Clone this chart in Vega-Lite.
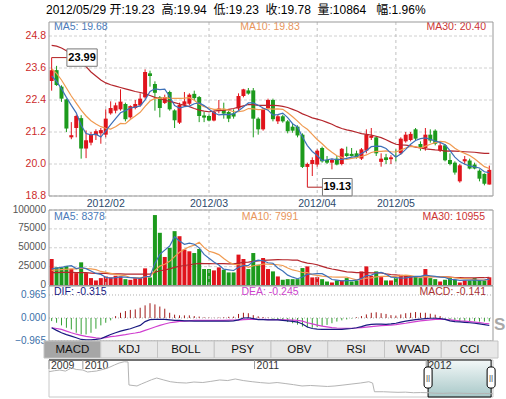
{
"$schema":"https://vega.github.io/schema/vega-lite/v6.json",
"width":454,"height":375,
"autosize":{"type":"none"},
"padding":{"left":44,"top":22,"right":8,"bottom":2},
"background":"white",
"title":{"text":"2012/05/29 开:19.23\u00a0\u00a0高:19.94\u00a0\u00a0低:19.23\u00a0\u00a0收:19.78\u00a0\u00a0量:10864\u00a0\u00a0\u00a0幅:1.96%","anchor":"start","frame":"group","offset":5,"dx":2,"fontSize":12,"fontWeight":"normal","color":"#000000","font":"Liberation Sans, Noto Sans CJK SC"},
"config":{"view":{"stroke":null},"axis":{"disable":true},"text":{"font":"Liberation Sans"}},
"datasets":{
"k":[
{"i":0,"o":23.11,"h":23.99,"l":22.75,"c":23.52,"a5":23.30,"a10":23.57,"a30":24.45,"v":35100,"v5":22000,"v10":20000,"v30":17000,"dif":-0.41,"dea":-0.41,"m":-0.13},
{"i":1,"o":23.52,"h":23.68,"l":22.93,"c":22.96,"a5":23.10,"a10":23.40,"a30":24.42,"v":24000,"v5":23000,"v10":20500,"v30":17000,"dif":-0.52,"dea":-0.44,"m":-0.20},
{"i":2,"o":22.90,"h":22.95,"l":22.33,"c":22.45,"a5":22.82,"a10":23.15,"a30":24.35,"v":24000,"v5":24000,"v10":21000,"v30":17500,"dif":-0.62,"dea":-0.48,"m":-0.31},
{"i":3,"o":22.42,"h":22.45,"l":21.20,"c":21.33,"a5":22.50,"a10":22.85,"a30":24.25,"v":26000,"v5":25500,"v10":21500,"v30":17500,"dif":-0.70,"dea":-0.55,"m":-0.41},
{"i":4,"o":21.00,"h":21.57,"l":20.93,"c":21.08,"a5":22.20,"a10":22.55,"a30":24.10,"v":22000,"v5":26200,"v10":22000,"v30":17500,"dif":-0.76,"dea":-0.62,"m":-0.48},
{"i":5,"o":21.35,"h":21.85,"l":21.00,"c":21.80,"a5":21.92,"a10":22.28,"a30":23.95,"v":16400,"v5":22500,"v10":22000,"v30":17000,"dif":-0.83,"dea":-0.68,"m":-0.62},
{"i":6,"o":21.72,"h":21.83,"l":20.20,"c":20.58,"a5":21.45,"a10":22.02,"a30":23.80,"v":30700,"v5":23800,"v10":23000,"v30":17000,"dif":-0.90,"dea":-0.73,"m":-0.69},
{"i":7,"o":20.58,"h":21.26,"l":20.22,"c":20.89,"a5":21.14,"a10":21.80,"a30":23.65,"v":16400,"v5":22300,"v10":22500,"v30":17000,"dif":-0.92,"dea":-0.77,"m":-0.69},
{"i":8,"o":20.80,"h":21.20,"l":20.70,"c":21.10,"a5":21.09,"a10":21.62,"a30":23.45,"v":9800,"v5":19100,"v10":22000,"v30":16500,"dif":-0.92,"dea":-0.80,"m":-0.62},
{"i":9,"o":21.08,"h":21.30,"l":20.90,"c":21.23,"a5":21.12,"a10":21.50,"a30":23.30,"v":6700,"v5":16000,"v10":21100,"v30":16000,"dif":-0.90,"dea":-0.83,"m":-0.45},
{"i":10,"o":21.15,"h":21.35,"l":20.76,"c":21.27,"a5":21.01,"a10":21.40,"a30":23.15,"v":9800,"v5":14700,"v10":18600,"v30":16000,"dif":-0.87,"dea":-0.85,"m":-0.31},
{"i":11,"o":21.10,"h":22.05,"l":21.00,"c":21.70,"a5":21.24,"a10":21.34,"a30":23.04,"v":12000,"v5":10900,"v10":17400,"v30":16000,"dif":-0.78,"dea":-0.82,"m":-0.20},
{"i":12,"o":21.90,"h":22.35,"l":21.85,"c":22.10,"a5":21.48,"a10":21.31,"a30":22.97,"v":10700,"v5":9800,"v10":16100,"v30":15500,"dif":-0.69,"dea":-0.78,"m":-0.10},
{"i":13,"o":22.00,"h":22.30,"l":21.90,"c":22.20,"a5":21.70,"a10":21.40,"a30":22.92,"v":12900,"v5":10400,"v10":14700,"v30":15500,"dif":-0.62,"dea":-0.76,"m":0.08},
{"i":14,"o":22.05,"h":22.80,"l":22.00,"c":22.34,"a5":21.92,"a10":21.52,"a30":22.87,"v":12000,"v5":11500,"v10":13700,"v30":15500,"dif":-0.55,"dea":-0.73,"m":0.22},
{"i":15,"o":22.25,"h":22.30,"l":21.60,"c":21.68,"a5":22.00,"a10":21.51,"a30":22.82,"v":8400,"v5":11200,"v10":12900,"v30":15000,"dif":-0.50,"dea":-0.70,"m":0.29},
{"i":16,"o":21.75,"h":22.20,"l":21.70,"c":22.17,"a5":22.10,"a10":21.67,"a30":22.77,"v":7500,"v5":10300,"v10":10600,"v30":15000,"dif":-0.45,"dea":-0.66,"m":0.34},
{"i":17,"o":22.10,"h":22.40,"l":22.05,"c":22.25,"a5":22.13,"a10":21.80,"a30":22.72,"v":9800,"v5":10100,"v10":10000,"v30":15000,"dif":-0.38,"dea":-0.63,"m":0.36},
{"i":18,"o":22.20,"h":22.65,"l":22.15,"c":22.45,"a5":22.18,"a10":21.94,"a30":22.68,"v":9800,"v5":9500,"v10":10000,"v30":15000,"dif":-0.31,"dea":-0.59,"m":0.43},
{"i":19,"o":22.50,"h":23.55,"l":22.45,"c":23.45,"a5":22.40,"a10":22.16,"a30":22.64,"v":22700,"v5":11600,"v10":11600,"v30":15000,"dif":-0.15,"dea":-0.52,"m":0.53},
{"i":20,"o":23.40,"h":23.50,"l":22.90,"c":23.30,"a5":22.72,"a10":22.36,"a30":22.57,"v":10700,"v5":12100,"v10":11700,"v30":15000,"dif":-0.07,"dea":-0.45,"m":0.62},
{"i":21,"o":23.00,"h":23.10,"l":22.00,"c":22.67,"a5":22.82,"a10":22.46,"a30":22.50,"v":93300,"v5":29300,"v10":19800,"v30":17500,"dif":-0.06,"dea":-0.38,"m":0.57},
{"i":22,"o":22.50,"h":22.55,"l":21.75,"c":22.10,"a5":22.79,"a10":22.46,"a30":22.45,"v":69800,"v5":41300,"v10":25700,"v30":19500,"dif":-0.06,"dea":-0.31,"m":0.48},
{"i":23,"o":22.29,"h":22.60,"l":22.25,"c":22.51,"a5":22.81,"a10":22.49,"a30":22.39,"v":37800,"v5":46900,"v10":28200,"v30":20500,"dif":-0.06,"dea":-0.25,"m":0.39},
{"i":24,"o":22.70,"h":22.75,"l":22.00,"c":22.05,"a5":22.53,"a10":22.46,"a30":22.35,"v":49800,"v5":52300,"v10":32000,"v30":22000,"dif":-0.08,"dea":-0.20,"m":0.22},
{"i":25,"o":22.01,"h":22.05,"l":21.35,"c":21.64,"a5":22.19,"a10":22.46,"a30":22.30,"v":72000,"v5":64500,"v10":38300,"v30":24000,"dif":-0.10,"dea":-0.17,"m":0.14},
{"i":26,"o":21.55,"h":22.30,"l":21.50,"c":22.22,"a5":22.10,"a10":22.46,"a30":22.25,"v":65300,"v5":58900,"v10":44100,"v30":25500,"dif":-0.10,"dea":-0.14,"m":0.11},
{"i":27,"o":22.22,"h":22.70,"l":22.15,"c":22.35,"a5":22.15,"a10":22.47,"a30":22.20,"v":47600,"v5":54500,"v10":47900,"v30":26500,"dif":-0.12,"dea":-0.13,"m":0.11},
{"i":28,"o":22.26,"h":22.65,"l":22.20,"c":22.60,"a5":22.17,"a10":22.49,"a30":22.15,"v":45300,"v5":56000,"v10":51400,"v30":27500,"dif":-0.12,"dea":-0.12,"m":0.11},
{"i":29,"o":22.63,"h":22.75,"l":22.40,"c":22.47,"a5":22.26,"a10":22.39,"a30":22.08,"v":43000,"v5":54600,"v10":53500,"v30":28500,"dif":-0.13,"dea":-0.10,"m":0.08},
{"i":30,"o":22.51,"h":22.55,"l":21.57,"c":21.80,"a5":22.29,"a10":22.24,"a30":22.02,"v":48400,"v5":49900,"v10":57200,"v30":29200,"dif":-0.13,"dea":-0.10,"m":0.06},
{"i":31,"o":21.82,"h":21.95,"l":21.57,"c":21.74,"a5":22.19,"a10":22.15,"a30":21.98,"v":21800,"v5":41200,"v10":50100,"v30":29100,"dif":-0.13,"dea":-0.10,"m":0.03},
{"i":32,"o":21.80,"h":21.85,"l":21.60,"c":21.63,"a5":22.05,"a10":22.10,"a30":21.96,"v":21800,"v5":36100,"v10":45300,"v30":29000,"dif":-0.13,"dea":-0.10,"m":0.02},
{"i":33,"o":21.63,"h":22.00,"l":21.60,"c":21.95,"a5":21.92,"a10":22.05,"a30":21.98,"v":20000,"v5":31000,"v10":43500,"v30":28800,"dif":-0.13,"dea":-0.10,"m":0.01},
{"i":34,"o":21.98,"h":22.40,"l":21.90,"c":22.08,"a5":21.84,"a10":22.05,"a30":22.01,"v":24000,"v5":27200,"v10":40900,"v30":28900,"dif":-0.13,"dea":-0.10,"m":0.02},
{"i":35,"o":22.02,"h":22.30,"l":21.70,"c":21.89,"a5":21.86,"a10":22.07,"a30":22.01,"v":20900,"v5":21700,"v10":35800,"v30":29000,"dif":-0.13,"dea":-0.10,"m":0.03},
{"i":36,"o":21.95,"h":22.00,"l":21.57,"c":21.70,"a5":21.85,"a10":22.02,"a30":22.05,"v":17300,"v5":20800,"v10":31000,"v30":28600,"dif":-0.13,"dea":-0.09,"m":0.05},
{"i":37,"o":21.90,"h":22.05,"l":21.70,"c":21.78,"a5":21.88,"a10":21.96,"a30":22.08,"v":17300,"v5":19900,"v10":28000,"v30":28600,"dif":-0.12,"dea":-0.09,"m":0.06},
{"i":38,"o":22.08,"h":22.65,"l":22.00,"c":22.55,"a5":22.00,"a10":21.96,"a30":22.13,"v":40900,"v5":24100,"v10":27500,"v30":29600,"dif":-0.08,"dea":-0.09,"m":0.17},
{"i":39,"o":22.55,"h":22.82,"l":22.50,"c":22.80,"a5":22.14,"a10":21.99,"a30":22.18,"v":35100,"v5":26300,"v10":26800,"v30":30600,"dif":0.00,"dea":-0.07,"m":0.22},
{"i":40,"o":22.76,"h":22.85,"l":22.60,"c":22.64,"a5":22.29,"a10":22.08,"a30":22.23,"v":21800,"v5":26500,"v10":24100,"v30":31000,"dif":0.01,"dea":-0.06,"m":0.20},
{"i":41,"o":22.76,"h":22.85,"l":21.00,"c":21.70,"a5":22.29,"a10":22.07,"a30":22.23,"v":43000,"v5":31600,"v10":26200,"v30":32000,"dif":-0.03,"dea":-0.06,"m":0.12},
{"i":42,"o":21.70,"h":21.75,"l":21.10,"c":21.30,"a5":22.20,"a10":22.04,"a30":22.20,"v":27600,"v5":33700,"v10":26800,"v30":32600,"dif":-0.07,"dea":-0.06,"m":0.07},
{"i":43,"o":21.30,"h":22.10,"l":21.25,"c":22.07,"a5":22.10,"a10":22.05,"a30":22.20,"v":36400,"v5":32800,"v10":28400,"v30":33400,"dif":-0.07,"dea":-0.06,"m":0.04},
{"i":44,"o":22.10,"h":22.45,"l":22.05,"c":22.40,"a5":22.02,"a10":22.08,"a30":22.20,"v":21800,"v5":30100,"v10":28200,"v30":33700,"dif":-0.08,"dea":-0.07,"m":0.02},
{"i":45,"o":22.40,"h":22.45,"l":21.60,"c":21.68,"a5":21.83,"a10":22.06,"a30":22.20,"v":18700,"v5":29500,"v10":28000,"v30":34000,"dif":-0.08,"dea":-0.07,"m":-0.03},
{"i":46,"o":21.60,"h":21.85,"l":21.50,"c":21.79,"a5":21.85,"a10":22.07,"a30":22.19,"v":12000,"v5":23300,"v10":27500,"v30":34200,"dif":-0.08,"dea":-0.07,"m":-0.08},
{"i":47,"o":21.79,"h":21.85,"l":21.55,"c":21.60,"a5":21.91,"a10":22.05,"a30":22.16,"v":7600,"v5":19300,"v10":26500,"v30":34100,"dif":-0.10,"dea":-0.08,"m":-0.12},
{"i":48,"o":21.60,"h":21.65,"l":21.15,"c":21.23,"a5":21.74,"a10":21.92,"a30":22.12,"v":8400,"v5":13700,"v10":23200,"v30":34100,"dif":-0.12,"dea":-0.08,"m":-0.17},
{"i":49,"o":21.40,"h":21.50,"l":21.17,"c":21.25,"a5":21.51,"a10":21.77,"a30":22.05,"v":8400,"v5":11000,"v10":20600,"v30":33600,"dif":-0.14,"dea":-0.09,"m":-0.22},
{"i":50,"o":21.40,"h":21.45,"l":21.00,"c":21.07,"a5":21.39,"a10":21.61,"a30":21.98,"v":8400,"v5":9000,"v10":19200,"v30":33500,"dif":-0.17,"dea":-0.10,"m":-0.28},
{"i":51,"o":21.10,"h":21.15,"l":19.85,"c":19.89,"a5":21.01,"a10":21.43,"a30":21.88,"v":23100,"v5":11200,"v10":17200,"v30":31200,"dif":-0.25,"dea":-0.13,"m":-0.36},
{"i":52,"o":19.89,"h":20.05,"l":19.13,"c":20.00,"a5":20.69,"a10":21.30,"a30":21.81,"v":25300,"v5":14700,"v10":17000,"v30":29700,"dif":-0.38,"dea":-0.20,"m":-0.40},
{"i":53,"o":20.00,"h":20.25,"l":19.55,"c":20.15,"a5":20.47,"a10":21.11,"a30":21.73,"v":10700,"v5":15200,"v10":14400,"v30":28800,"dif":-0.44,"dea":-0.25,"m":-0.41},
{"i":54,"o":19.98,"h":20.55,"l":19.90,"c":20.50,"a5":20.32,"a10":20.92,"a30":21.68,"v":11100,"v5":15700,"v10":13400,"v30":27500,"dif":-0.47,"dea":-0.30,"m":-0.38},
{"i":55,"o":20.60,"h":20.65,"l":20.05,"c":20.10,"a5":20.13,"a10":20.76,"a30":21.63,"v":8400,"v5":15700,"v10":12300,"v30":25400,"dif":-0.48,"dea":-0.34,"m":-0.34},
{"i":56,"o":20.15,"h":20.30,"l":20.00,"c":20.05,"a5":20.16,"a10":20.58,"a30":21.56,"v":5300,"v5":12200,"v10":11700,"v30":23400,"dif":-0.48,"dea":-0.37,"m":-0.29},
{"i":57,"o":20.05,"h":20.20,"l":19.80,"c":20.15,"a5":20.19,"a10":20.44,"a30":21.49,"v":4000,"v5":7900,"v10":11300,"v30":21900,"dif":-0.48,"dea":-0.40,"m":-0.22},
{"i":58,"o":20.20,"h":20.30,"l":19.95,"c":19.98,"a5":20.16,"a10":20.31,"a30":21.40,"v":6700,"v5":7100,"v10":11100,"v30":20600,"dif":-0.48,"dea":-0.42,"m":-0.15},
{"i":59,"o":20.00,"h":20.60,"l":19.95,"c":20.57,"a5":20.17,"a10":20.25,"a30":21.33,"v":6700,"v5":6200,"v10":11000,"v30":19400,"dif":-0.48,"dea":-0.43,"m":-0.10},
{"i":60,"o":20.40,"h":20.65,"l":20.25,"c":20.30,"a5":20.21,"a10":20.17,"a30":21.28,"v":9800,"v5":6500,"v10":11100,"v30":18100,"dif":-0.46,"dea":-0.43,"m":-0.06},
{"i":61,"o":20.38,"h":20.60,"l":20.28,"c":20.30,"a5":20.26,"a10":20.21,"a30":21.24,"v":5300,"v5":6500,"v10":9300,"v30":17600,"dif":-0.44,"dea":-0.43,"m":-0.02},
{"i":62,"o":20.40,"h":20.50,"l":20.20,"c":20.25,"a5":20.28,"a10":20.24,"a30":21.19,"v":6700,"v5":7000,"v10":7500,"v30":17100,"dif":-0.41,"dea":-0.42,"m":0.03},
{"i":63,"o":20.20,"h":20.60,"l":20.15,"c":20.55,"a5":20.39,"a10":20.28,"a30":21.14,"v":18700,"v5":9400,"v10":8300,"v30":17000,"dif":-0.36,"dea":-0.40,"m":0.08},
{"i":64,"o":20.50,"h":21.30,"l":20.40,"c":21.10,"a5":20.50,"a10":20.34,"a30":21.11,"v":25300,"v5":13200,"v10":9700,"v30":17100,"dif":-0.30,"dea":-0.38,"m":0.15},
{"i":65,"o":20.98,"h":21.35,"l":20.90,"c":21.05,"a5":20.65,"a10":20.43,"a30":21.08,"v":12900,"v5":13800,"v10":10100,"v30":16800,"dif":-0.27,"dea":-0.36,"m":0.22},
{"i":66,"o":21.00,"h":21.05,"l":20.30,"c":20.40,"a5":20.67,"a10":20.47,"a30":21.04,"v":18700,"v5":16500,"v10":11500,"v30":16900,"dif":-0.26,"dea":-0.34,"m":0.24},
{"i":67,"o":20.08,"h":20.40,"l":19.90,"c":20.20,"a5":20.66,"a10":20.47,"a30":20.99,"v":11100,"v5":17300,"v10":12200,"v30":16700,"dif":-0.26,"dea":-0.32,"m":0.20},
{"i":68,"o":20.25,"h":20.38,"l":20.00,"c":20.15,"a5":20.58,"a10":20.49,"a30":20.91,"v":6700,"v5":14900,"v10":12200,"v30":15500,"dif":-0.27,"dea":-0.31,"m":0.17},
{"i":69,"o":20.18,"h":20.33,"l":20.00,"c":20.25,"a5":20.41,"a10":20.46,"a30":20.82,"v":6700,"v5":11200,"v10":12200,"v30":14600,"dif":-0.25,"dea":-0.30,"m":0.12},
{"i":70,"o":20.30,"h":20.55,"l":20.10,"c":20.28,"a5":20.26,"a10":20.45,"a30":20.74,"v":9800,"v5":10600,"v10":12200,"v30":14200,"dif":-0.22,"dea":-0.28,"m":0.10},
{"i":71,"o":20.40,"h":21.00,"l":20.35,"c":20.95,"a5":20.37,"a10":20.52,"a30":20.72,"v":14200,"v5":9700,"v10":13100,"v30":13200,"dif":-0.17,"dea":-0.25,"m":0.15},
{"i":72,"o":20.85,"h":21.20,"l":20.80,"c":21.10,"a5":20.55,"a10":20.60,"a30":20.71,"v":13300,"v5":10100,"v10":13700,"v30":12700,"dif":-0.13,"dea":-0.22,"m":0.20},
{"i":73,"o":20.90,"h":21.20,"l":20.85,"c":21.13,"a5":20.74,"a10":20.66,"a30":20.68,"v":12000,"v5":11200,"v10":13100,"v30":11900,"dif":-0.10,"dea":-0.18,"m":0.22},
{"i":74,"o":21.30,"h":21.35,"l":20.90,"c":20.95,"a5":20.88,"a10":20.65,"a30":20.63,"v":11100,"v5":12100,"v10":11700,"v30":11600,"dif":-0.07,"dea":-0.15,"m":0.25},
{"i":75,"o":20.75,"h":20.85,"l":20.50,"c":20.60,"a5":20.95,"a10":20.60,"a30":20.60,"v":9800,"v5":12100,"v10":11300,"v30":11300,"dif":-0.05,"dea":-0.12,"m":0.22},
{"i":76,"o":20.60,"h":21.35,"l":20.50,"c":21.10,"a5":20.98,"a10":20.67,"a30":20.57,"v":21800,"v5":13600,"v10":11700,"v30":11600,"dif":-0.03,"dea":-0.10,"m":0.22},
{"i":77,"o":21.10,"h":21.30,"l":20.80,"c":20.88,"a5":20.93,"a10":20.74,"a30":20.55,"v":9800,"v5":12900,"v10":11500,"v30":11700,"dif":-0.01,"dea":-0.08,"m":0.18},
{"i":78,"o":21.25,"h":21.30,"l":20.70,"c":20.76,"a5":20.86,"a10":20.80,"a30":20.53,"v":8400,"v5":12200,"v10":11700,"v30":11700,"dif":-0.01,"dea":-0.06,"m":0.14},
{"i":79,"o":20.50,"h":20.80,"l":20.45,"c":20.70,"a5":20.81,"a10":20.85,"a30":20.52,"v":5300,"v5":11000,"v10":11600,"v30":11600,"dif":-0.02,"dea":-0.06,"m":0.08},
{"i":80,"o":20.70,"h":20.75,"l":20.10,"c":20.14,"a5":20.72,"a10":20.83,"a30":20.48,"v":7600,"v5":10600,"v10":11300,"v30":11500,"dif":-0.06,"dea":-0.06,"m":-0.03},
{"i":81,"o":20.15,"h":20.40,"l":19.95,"c":20.00,"a5":20.50,"a10":20.74,"a30":20.49,"v":9800,"v5":8200,"v10":10900,"v30":11100,"dif":-0.12,"dea":-0.08,"m":-0.08},
{"i":82,"o":20.05,"h":20.10,"l":19.60,"c":19.68,"a5":20.26,"a10":20.59,"a30":20.48,"v":7600,"v5":7700,"v10":10300,"v30":10500,"dif":-0.15,"dea":-0.10,"m":-0.12},
{"i":83,"o":19.35,"h":20.00,"l":19.30,"c":19.95,"a5":20.09,"a10":20.48,"a30":20.47,"v":4000,"v5":6900,"v10":9500,"v30":10300,"dif":-0.16,"dea":-0.12,"m":-0.13},
{"i":84,"o":20.10,"h":20.30,"l":20.00,"c":20.18,"a5":19.99,"a10":20.40,"a30":20.46,"v":6700,"v5":7100,"v10":9100,"v30":10100,"dif":-0.18,"dea":-0.13,"m":-0.12},
{"i":85,"o":20.13,"h":20.20,"l":19.80,"c":19.83,"a5":19.93,"a10":20.32,"a30":20.45,"v":6700,"v5":7000,"v10":8800,"v30":10100,"dif":-0.20,"dea":-0.15,"m":-0.13},
{"i":86,"o":19.98,"h":20.05,"l":19.80,"c":19.83,"a5":19.89,"a10":20.20,"a30":20.44,"v":9800,"v5":7000,"v10":7600,"v30":10200,"dif":-0.22,"dea":-0.17,"m":-0.14},
{"i":87,"o":19.75,"h":19.80,"l":19.35,"c":19.45,"a5":19.85,"a10":20.05,"a30":20.42,"v":6700,"v5":6800,"v10":7300,"v30":10300,"dif":-0.25,"dea":-0.19,"m":-0.15},
{"i":88,"o":19.63,"h":19.65,"l":19.20,"c":19.26,"a5":19.71,"a10":19.90,"a30":20.40,"v":6700,"v5":7300,"v10":7100,"v30":10300,"dif":-0.28,"dea":-0.22,"m":-0.15},
{"i":89,"o":19.23,"h":19.94,"l":19.23,"c":19.78,"a5":19.68,"a10":19.83,"a30":20.40,"v":10864,"v5":8378,"v10":7991,"v30":10955,"dif":-0.315,"dea":-0.245,"m":-0.141}
],
"months":[{"i":11,"m":"2012/02"},{"i":32,"m":"2012/03"},{"i":54,"m":"2012/04"},{"i":70,"m":"2012/05"}],
"pticks":[{"v":18.8},{"v":20.0},{"v":21.2},{"v":22.4},{"v":23.6},{"v":24.8}],
"vticks":[{"v":0},{"v":25000},{"v":50000},{"v":75000},{"v":100000}],
"mticks":[{"v":-0.965},{"v":0},{"v":0.965}],
"years":[{"d":"2009-10-21","y":"2009"},{"d":"2010-01-01","y":"2010"},{"d":"2011-01-01","y":"2011"},{"d":"2012-01-01","y":"2012"}],
"tabs":[{"tab":"MACD"},{"tab":"KDJ"},{"tab":"BOLL"},{"tab":"PSY"},{"tab":"OBV"},{"tab":"RSI"},{"tab":"WVAD"},{"tab":"CCI"}],
"nav":[
{"d":"2009-10-21","p":45.8},{"d":"2009-11-02","p":47.0},{"d":"2009-11-13","p":47.8},{"d":"2009-11-25","p":46.5},{"d":"2009-12-08","p":50.3},{"d":"2009-12-18","p":48.5},{"d":"2010-01-01","p":47.8},{"d":"2010-01-11","p":45.4},{"d":"2010-01-20","p":46.0},{"d":"2010-01-30","p":46.6},{"d":"2010-02-16","p":49.0},{"d":"2010-02-26","p":51.0},{"d":"2010-03-09","p":53.9},{"d":"2010-03-19","p":56.3},{"d":"2010-03-30","p":57.9},{"d":"2010-04-07","p":57.6},{"d":"2010-04-09","p":29.6},{"d":"2010-04-26","p":28.4},{"d":"2010-05-06","p":31.0},{"d":"2010-05-17","p":33.6},{"d":"2010-05-27","p":36.0},{"d":"2010-06-07","p":38.1},{"d":"2010-06-22","p":35.7},{"d":"2010-07-06","p":33.6},{"d":"2010-07-22","p":32.5},{"d":"2010-08-09","p":32.0},{"d":"2010-08-25","p":33.2},{"d":"2010-09-13","p":32.6},{"d":"2010-09-30","p":34.0},{"d":"2010-10-19","p":35.7},{"d":"2010-11-05","p":35.0},{"d":"2010-11-21","p":36.9},{"d":"2010-12-08","p":35.0},{"d":"2010-12-27","p":33.6},{"d":"2011-01-14","p":32.5},{"d":"2011-02-01","p":31.7},{"d":"2011-02-18","p":32.6},{"d":"2011-03-07","p":31.4},{"d":"2011-03-25","p":30.0},{"d":"2011-04-12","p":28.4},{"d":"2011-04-30","p":29.0},{"d":"2011-05-18","p":28.4},{"d":"2011-06-05","p":27.8},{"d":"2011-06-21","p":28.4},{"d":"2011-07-08","p":29.5},{"d":"2011-07-27","p":30.8},{"d":"2011-08-14","p":32.0},{"d":"2011-09-01","p":33.6},{"d":"2011-09-09","p":32.0},{"d":"2011-09-13","p":21.4},{"d":"2011-10-02","p":21.4},{"d":"2011-10-18","p":21.0},{"d":"2011-11-02","p":20.7},{"d":"2011-11-18","p":20.9},{"d":"2011-12-05","p":20.2},{"d":"2011-12-20","p":20.4},{"d":"2012-01-05","p":20.2},{"d":"2012-01-20","p":19.6},{"d":"2012-02-06","p":19.4},{"d":"2012-02-24","p":19.9},{"d":"2012-03-12","p":19.6},{"d":"2012-03-30","p":19.3},{"d":"2012-04-17","p":19.0},{"d":"2012-05-04","p":19.3},{"d":"2012-05-22","p":18.9}
]
},
"layer":[
{
"layer":[
{
"layer":[
{"data":{"name":"pticks"},"mark":{"type":"rule","strokeDash":[3,2],"color":"#d0d0d0"},
 "encoding":{"x":{"datum":-0.54,"type":"quantitative","scale":{"domain":[-0.54,89.75],"nice":false,"zero":false}},"x2":{"datum":89.75},
  "y":{"field":"v","type":"quantitative","scale":{"domain":[11.2625,25.325],"nice":false,"zero":false}}}},
{"data":{"name":"pticks"},"mark":{"type":"text","align":"right","baseline":"middle","dx":-3,"fontSize":10.5,"color":"#cc2a2a"},
 "encoding":{"x":{"datum":-0.54},"y":{"field":"v","type":"quantitative"},"text":{"field":"v","type":"quantitative","format":".1f"}}},
{"data":{"name":"months"},"mark":{"type":"rule","strokeDash":[3,3],"color":"#c0c0c0"},
 "encoding":{"x":{"field":"i","type":"quantitative"},"y":{"datum":25.325},"y2":{"datum":18.8}}},
{"data":{"name":"months"},"mark":{"type":"text","align":"center","baseline":"middle","fontSize":10.5,"color":"#2c4a6b"},
 "encoding":{"x":{"field":"i","type":"quantitative"},"y":{"datum":18.5},"text":{"field":"m"}}},
{"data":{"name":"k"},"mark":{"type":"rule","strokeWidth":1},
 "encoding":{"x":{"field":"i","type":"quantitative"},"y":{"field":"l","type":"quantitative"},"y2":{"field":"h"},
  "color":{"condition":{"test":"datum.c>=datum.o","value":"#e0141c"},"value":"#1c9a1c"}}},
{"data":{"name":"k"},"mark":{"type":"bar","width":4},
 "encoding":{"x":{"field":"i","type":"quantitative"},"y":{"field":"o","type":"quantitative"},"y2":{"field":"c"},
  "color":{"condition":{"test":"datum.c>=datum.o","value":"#e0141c"},"value":"#1c9a1c"}}},
{"data":{"name":"k"},"mark":{"type":"line","color":"#b5262c","strokeWidth":1.2},
 "encoding":{"x":{"field":"i","type":"quantitative"},"y":{"field":"a30","type":"quantitative"}}},
{"data":{"name":"k"},"mark":{"type":"line","color":"#f09a50","strokeWidth":1.2},
 "encoding":{"x":{"field":"i","type":"quantitative"},"y":{"field":"a10","type":"quantitative"}}},
{"data":{"name":"k"},"mark":{"type":"line","color":"#3d70b8","strokeWidth":1.2},
 "encoding":{"x":{"field":"i","type":"quantitative"},"y":{"field":"a5","type":"quantitative"}}},
{"data":{"values":[{}]},"mark":{"type":"rule","color":"#b02020"},
 "encoding":{"x":{"datum":0},"x2":{"datum":3.1},"y":{"datum":23.99}}},
{"data":{"values":[{}]},"mark":{"type":"rule","color":"#b02020"},
 "encoding":{"x":{"datum":52},"x2":{"datum":55.07},"y":{"datum":19.13}}},
{"data":{"values":[{}]},"mark":{"type":"rect","fill":"white","stroke":"#777777","strokeWidth":1},
 "encoding":{"x":{"datum":3.1},"x2":{"datum":9.26},"y":{"datum":24.316},"y2":{"datum":23.664}}},
{"data":{"values":[{}]},"mark":{"type":"rect","fill":"white","stroke":"#777777","strokeWidth":1},
 "encoding":{"x":{"datum":55.07},"x2":{"datum":61.1},"y":{"datum":19.456},"y2":{"datum":18.804}}},
{"data":{"values":[{}]},"mark":{"type":"text","text":"23.99","fontSize":11,"fontWeight":"bold","color":"#000","align":"center","baseline":"middle"},
 "encoding":{"x":{"datum":6.18},"y":{"datum":23.99}}},
{"data":{"values":[{}]},"mark":{"type":"text","text":"19.13","fontSize":11,"fontWeight":"bold","color":"#000","align":"center","baseline":"middle"},
 "encoding":{"x":{"datum":58.08},"y":{"datum":19.13}}},
{"data":{"values":[{}]},"mark":{"type":"text","text":"MA5: 19.68","fontSize":10.5,"color":"#4a7ab8","align":"left","baseline":"middle","dx":5},
 "encoding":{"x":{"datum":-0.54},"y":{"datum":25.137}}},
{"data":{"values":[{}]},"mark":{"type":"text","text":"MA10: 19.83","fontSize":10.5,"color":"#e8955a","align":"center","baseline":"middle"},
 "encoding":{"x":{"datum":44.4},"y":{"datum":25.137}}},
{"data":{"values":[{}]},"mark":{"type":"text","text":"MA30: 20.40","fontSize":10.5,"color":"#cc3333","align":"right","baseline":"middle","dx":-7},
 "encoding":{"x":{"datum":89.75},"y":{"datum":25.137}}},
{"data":{"values":[{}]},"mark":{"type":"rect","fill":"transparent","stroke":"#999999","strokeWidth":1},
 "encoding":{"x":{"datum":-0.54},"x2":{"datum":89.75},"y":{"datum":25.325},"y2":{"datum":18.8}}}
]
},
{
"layer":[
{"data":{"name":"vticks"},"mark":{"type":"rule","strokeDash":[3,2],"color":"#d0d0d0"},
 "encoding":{"x":{"datum":-0.54},"x2":{"datum":89.75},
  "y":{"field":"v","type":"quantitative","scale":{"domain":[-147682,349007],"nice":false,"zero":false}}}},
{"data":{"name":"vticks"},"mark":{"type":"text","align":"right","baseline":"middle","dx":-3,"dy":-0.5,"fontSize":10,"color":"#555555"},
 "encoding":{"x":{"datum":-0.54},"y":{"field":"v","type":"quantitative"},"text":{"field":"v","type":"quantitative","format":"d"}}},
{"data":{"name":"k"},"mark":{"type":"bar","width":4},
 "encoding":{"x":{"field":"i","type":"quantitative"},"y":{"field":"v","type":"quantitative"},"y2":{"datum":0},
  "color":{"condition":{"test":"datum.c>=datum.o","value":"#e0141c"},"value":"#1c9a1c"}}},
{"data":{"name":"months"},"mark":{"type":"rule","strokeDash":[3,3],"color":"#c0c0c0"},
 "encoding":{"x":{"field":"i","type":"quantitative"},"y":{"datum":100000},"y2":{"datum":0}}},
{"data":{"name":"k"},"mark":{"type":"line","color":"#b5262c","strokeWidth":1.2},
 "encoding":{"x":{"field":"i","type":"quantitative"},"y":{"field":"v30","type":"quantitative"}}},
{"data":{"name":"k"},"mark":{"type":"line","color":"#f09a50","strokeWidth":1.2},
 "encoding":{"x":{"field":"i","type":"quantitative"},"y":{"field":"v10","type":"quantitative"}}},
{"data":{"name":"k"},"mark":{"type":"line","color":"#3d70b8","strokeWidth":1.2},
 "encoding":{"x":{"field":"i","type":"quantitative"},"y":{"field":"v5","type":"quantitative"}}},
{"data":{"values":[{}]},"mark":{"type":"text","text":"MA5: 8378","fontSize":10.5,"color":"#4a7ab8","align":"left","baseline":"middle","dx":5},
 "encoding":{"x":{"datum":-0.54},"y":{"datum":90729}}},
{"data":{"values":[{}]},"mark":{"type":"text","text":"MA10: 7991","fontSize":10.5,"color":"#e8955a","align":"center","baseline":"middle"},
 "encoding":{"x":{"datum":44.4},"y":{"datum":90729}}},
{"data":{"values":[{}]},"mark":{"type":"text","text":"MA30: 10955","fontSize":10.5,"color":"#cc3333","align":"right","baseline":"middle","dx":-8},
 "encoding":{"x":{"datum":89.75},"y":{"datum":90729}}},
{"data":{"values":[{}]},"mark":{"type":"rect","fill":"transparent","stroke":"#999999","strokeWidth":1},
 "encoding":{"x":{"datum":-0.54},"x2":{"datum":89.75},"y":{"datum":100000},"y2":{"datum":0}}}
]
},
{
"layer":[
{"data":{"name":"mticks"},"mark":{"type":"rule","strokeDash":[1,2],"color":"#b0b0b0"},
 "encoding":{"x":{"datum":-0.54},"x2":{"datum":89.75},
  "y":{"field":"v","type":"quantitative","scale":{"domain":[-3.3146,12.419],"nice":false,"zero":false}}}},
{"data":{"name":"mticks"},"mark":{"type":"text","align":"right","baseline":"middle","dx":-3,"dy":0.5,"fontSize":10,"color":"#3a6fa8"},
 "encoding":{"x":{"datum":-0.54},"y":{"field":"v","type":"quantitative"},"text":{"field":"v","type":"quantitative","format":".3f"}}},
{"data":{"name":"k"},"mark":{"type":"rule","strokeWidth":1},
 "encoding":{"x":{"field":"i","type":"quantitative"},"y":{"field":"m","type":"quantitative"},"y2":{"datum":0},
  "color":{"condition":{"test":"datum.m>=0","value":"#a01818"},"value":"#35a035"}}},
{"data":{"name":"k"},"mark":{"type":"line","color":"#d040d0","strokeWidth":1.2},
 "encoding":{"x":{"field":"i","type":"quantitative"},"y":{"field":"dea","type":"quantitative"}}},
{"data":{"name":"k"},"mark":{"type":"line","color":"#1a1a80","strokeWidth":1.2},
 "encoding":{"x":{"field":"i","type":"quantitative"},"y":{"field":"dif","type":"quantitative"}}},
{"data":{"values":[{}]},"mark":{"type":"text","text":"DIF: -0.315","fontSize":10.5,"color":"#1a1a80","align":"left","baseline":"middle","dx":5},
 "encoding":{"x":{"datum":-0.54},"y":{"datum":1.078}}},
{"data":{"values":[{}]},"mark":{"type":"text","text":"DEA: -0.245","fontSize":10.5,"color":"#cc44cc","align":"center","baseline":"middle"},
 "encoding":{"x":{"datum":44.4},"y":{"datum":1.078}}},
{"data":{"values":[{}]},"mark":{"type":"text","text":"MACD: -0.141","fontSize":10.5,"color":"#a83232","align":"right","baseline":"middle","dx":-7},
 "encoding":{"x":{"datum":89.75},"y":{"datum":1.078}}},
{"data":{"values":[{}]},"mark":{"type":"text","text":"S","fontSize":17,"fontWeight":"bold","color":"#a8a8a8","align":"left","baseline":"middle","dx":1},
 "encoding":{"x":{"datum":89.75},"y":{"datum":-0.29}}},
{"data":{"values":[{}]},"mark":{"type":"rect","fill":"transparent","stroke":"#999999","strokeWidth":1},
 "encoding":{"x":{"datum":-0.54},"x2":{"datum":89.75},"y":{"datum":1.34},"y2":{"datum":-0.965}}}
]
}
],
"resolve":{"scale":{"y":"independent"}}
},
{
"data":{"name":"tabs"},
"layer":[
{"mark":{"type":"rect","stroke":"#c4c4c4","strokeWidth":1},
 "encoding":{"x":{"field":"tab","type":"nominal","sort":null,"scale":{"type":"band","paddingInner":0,"paddingOuter":0}},
  "y":{"datum":1,"type":"quantitative","scale":{"domain":[-2.294,19.765],"nice":false,"zero":false}},"y2":{"datum":0},
  "color":{"condition":{"test":"datum.tab==='MACD'","value":"#a6a6a6"},"value":"#e8e8e8"}}},
{"mark":{"type":"text","fontSize":11.5,"color":"#111111","baseline":"middle"},
 "encoding":{"x":{"field":"tab","type":"nominal","sort":null},"y":{"datum":0.5},"text":{"field":"tab"}}}
]
},
{
"layer":[
{"data":{"values":[{}]},"mark":{"type":"rect","fill":"transparent","stroke":"#c8c8c8","strokeWidth":1},
 "encoding":{"x":{"datum":{"year":2009,"month":10,"date":21},"type":"temporal","scale":{"domain":[{"year":2009,"month":10,"date":21},{"year":2012,"month":5,"date":22}],"nice":false}},"x2":{"datum":{"year":2012,"month":5,"date":22}},
  "y":{"datum":15,"type":"quantitative","scale":{"domain":[15,471.1],"nice":false,"zero":false}},"y2":{"datum":60}}},
{"data":{"values":[{}]},"mark":{"type":"rule","color":"#000000","strokeWidth":1},
 "encoding":{"x":{"datum":{"year":2009,"month":10,"date":21},"type":"temporal"},"x2":{"datum":{"year":2012,"month":1,"date":5}},"y":{"datum":60,"type":"quantitative"}}},
{"data":{"values":[{}]},"mark":{"type":"rect","stroke":"#000000","strokeWidth":1,"fill":{"gradient":"linear","x1":0,"y1":0,"x2":0,"y2":1,"stops":[{"offset":0,"color":"#f3f8f8"},{"offset":1,"color":"#a8c8c8"}]}},
 "encoding":{"x":{"datum":{"year":2012,"month":1,"date":5},"type":"temporal"},"x2":{"datum":{"year":2012,"month":5,"date":18}},"y":{"datum":15,"type":"quantitative"},"y2":{"datum":60}}},
{"data":{"name":"years"},"mark":{"type":"rule","color":"#999999","strokeWidth":1},
 "encoding":{"x":{"field":"d","type":"temporal"},"y":{"datum":60,"type":"quantitative"},"y2":{"datum":49.05}}},
{"data":{"name":"years"},"mark":{"type":"text","fontSize":10.5,"color":"#333333","align":"left","baseline":"middle","dx":2},
 "encoding":{"x":{"field":"d","type":"temporal"},"y":{"datum":52.7,"type":"quantitative"},"text":{"field":"y"}}},
{"data":{"name":"nav"},"mark":{"type":"line","color":"#b4b4b4","strokeWidth":1},
 "encoding":{"x":{"field":"d","type":"temporal"},"y":{"field":"p","type":"quantitative"}}},
{"data":{"values":[{}]},"mark":{"type":"bar","width":8,"fill":"white","stroke":"#000000","strokeWidth":1,"cornerRadius":3},
 "encoding":{"x":{"datum":{"year":2012,"month":1,"date":5},"type":"temporal"},"y":{"datum":51.5,"type":"quantitative"},"y2":{"datum":25.9}}},
{"data":{"values":[{}]},"mark":{"type":"bar","width":8,"fill":"white","stroke":"#000000","strokeWidth":1,"cornerRadius":3},
 "encoding":{"x":{"datum":{"year":2012,"month":5,"date":18},"type":"temporal"},"y":{"datum":51.5,"type":"quantitative"},"y2":{"datum":25.9}}},
{"data":{"values":[{}]},"mark":{"type":"text","text":"||","fontSize":8,"color":"#333333","align":"center","baseline":"middle"},
 "encoding":{"x":{"datum":{"year":2012,"month":1,"date":5},"type":"temporal"},"y":{"datum":38.7,"type":"quantitative"}}},
{"data":{"values":[{}]},"mark":{"type":"text","text":"||","fontSize":8,"color":"#333333","align":"center","baseline":"middle"},
 "encoding":{"x":{"datum":{"year":2012,"month":5,"date":18},"type":"temporal"},"y":{"datum":38.7,"type":"quantitative"}}}
]
}
],
"resolve":{"scale":{"x":"independent","y":"independent"}}
}
